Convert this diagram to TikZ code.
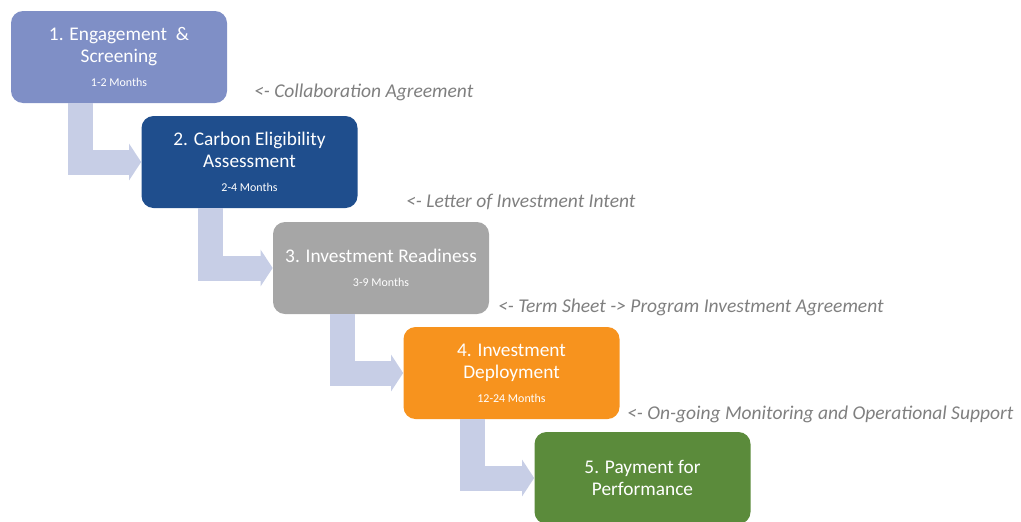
\documentclass[tikz,border=0pt]{standalone}
\usepackage{fontspec}
\setmainfont{Carlito}
\usetikzlibrary{arrows.meta}

\definecolor{engage}{HTML}{7F8FC6}
\definecolor{carbon}{HTML}{1F4E8D}
\definecolor{ready}{HTML}{A6A6A6}
\definecolor{deploy}{HTML}{F7931E}
\definecolor{payment}{HTML}{5B8B3B}
\definecolor{flowblue}{HTML}{C7CEE6}
\definecolor{notegray}{HTML}{7F7F7F}

\tikzset{
  stage/.style={rounded corners=0.24cm, minimum width=4.32cm, minimum height=1.84cm,
    text=white, align=center, inner sep=0pt, font=\fontsize{11}{12.5}\selectfont},
  flow/.style={draw=flowblue, line width=0.5cm, line join=miter,
    -{Triangle[width=0.72cm,length=0.24cm]}},
  note/.style={anchor=west, text=notegray, font=\fontsize{11.1}{12}\selectfont\itshape},
}
\newcommand{\months}[1]{\\[1pt]{\fontsize{6.8}{7.5}\selectfont #1}}

\begin{document}
\begin{tikzpicture}
	\useasboundingbox (0,0) rectangle (20.42,-10.42);

	% stages
	\node[stage, fill=engage] (s1) at (2.38,-1.14) {1. Engagement \ \&\\Screening\months{1-2 Months}};
	\node[stage, fill=carbon] (s2) at (4.99,-3.24) {2. Carbon Eligibility\\Assessment\months{2-4 Months}};
	\node[stage, fill=ready] (s3) at (7.62,-5.36) {3. Investment Readiness\months{3-9 Months}};
	\node[stage, fill=deploy] (s4) at (10.23,-7.46) {4. Investment\\Deployment\months{12-24 Months}};
	\node[stage, fill=payment] (s5) at (12.85,-9.56) {5. Payment for\\Performance};

	% elbow arrows
	\draw[flow] ([xshift=1.39cm]s1.south west) |- (s2.west);
	\draw[flow] ([xshift=1.39cm]s2.south west) |- (s3.west);
	\draw[flow] ([xshift=1.39cm]s3.south west) |- (s4.west);
	\draw[flow] ([xshift=1.39cm]s4.south west) |- (s5.west);

	% agreements
	\node[note] (n1) at (4.96,-1.84) {<- Collaboration Agreement};
	\node[note] (n2) at (8.00,-4.04) {<- Letter of Investment Intent};
	\node[note] (n3) at (9.84,-6.14) {<- Term Sheet -> Program Investment Agreement};
	\node[note] (n4) at (12.42,-8.28) {<- On-going Monitoring and Operational Support};
\end{tikzpicture}
\end{document}
